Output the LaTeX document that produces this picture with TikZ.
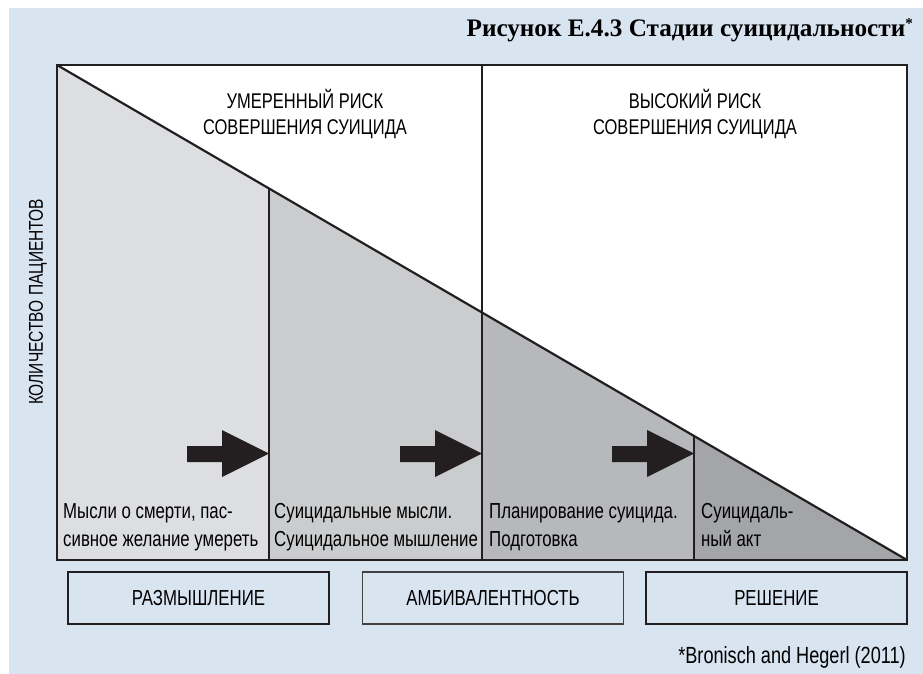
\documentclass[tikz,border=0pt]{standalone}
\usepackage{xcolor}
\usepackage{fontspec}
\setmainfont{Liberation Sans}[FakeStretch=0.775]
\newfontfamily\titlefont{Liberation Serif}
\usepackage{tikz}
\usetikzlibrary{positioning}

\definecolor{bgblue}{RGB}{217,228,241}
\definecolor{stageA}{RGB}{221,222,225}
\definecolor{stageB}{RGB}{203,204,206}
\definecolor{stageC}{RGB}{183,184,187}
\definecolor{stageD}{RGB}{164,165,168}
\definecolor{arrowblack}{RGB}{35,31,32}

\tikzset{
  frameline/.style={draw=arrowblack, line width=2.2pt},
  stagetext/.style={anchor=base west, align=left, inner sep=0pt, font=\fontsize{21.7}{27.5}\selectfont},
  risktext/.style={anchor=base, align=center, inner sep=0pt, font=\fontsize{21.3}{26.5}\selectfont},
  phase/.style={rectangle, draw=arrowblack, line width=2pt, minimum width=261pt, minimum height=52pt, font=\fontsize{21.7}{24}\selectfont}
}

\begin{document}
\begin{tikzpicture}[x=1pt, y=-1pt]
\useasboundingbox (0,0) rectangle (923,674);
\fill[bgblue] (9,8) rectangle (923,674);

% title
\node (title) [anchor=base east, inner sep=0pt, font=\titlefont\bfseries\fontsize{25.2}{28}\selectfont] at (913,37) {Рисунок Е.4.3 Стадии суицидальности\raisebox{8pt}{\fontsize{15}{15}\selectfont*}};

% chart area
\coordinate (tl) at (57,65);
\coordinate (br) at (907,560);
\coordinate (s1) at (269,188.5);
\coordinate (s2) at (482,312.5);
\coordinate (s3) at (694,436);
\fill[white] (tl) rectangle (br);
\fill[stageA] (tl) -- (s1) -- (269,560) -- (57,560) -- cycle;
\fill[stageB] (s1) -- (s2) -- (482,560) -- (269,560) -- cycle;
\fill[stageC] (s2) -- (s3) -- (694,560) -- (482,560) -- cycle;
\fill[stageD] (s3) -- (br) -- (694,560) -- cycle;

\draw[frameline] (tl) rectangle (br);
\draw[frameline] (tl) -- (br);
\draw[frameline] (s1) -- (269,560);
\draw[frameline] (482,65) -- (482,560);
\draw[frameline] (s3) -- (694,560);

% arrows between stages
\foreach \tip in {269,482,694}
  \fill[arrowblack] (\tip-82,446) -- (\tip-47,446) -- (\tip-47,430) -- (\tip,453.5)
    -- (\tip-47,477) -- (\tip-47,462) -- (\tip-82,462) -- cycle;

% labels (base = last line)
\node (moderate) [risktext] at (305,135) {УМЕРЕННЫЙ РИСК\\СОВЕРШЕНИЯ СУИЦИДА};
\node (high) [risktext] at (695,135) {ВЫСОКИЙ РИСК\\СОВЕРШЕНИЯ СУИЦИДА};
\node (count) [rotate=90, inner sep=0pt, font=\fontsize{20}{24}\selectfont] at (38,302) {КОЛИЧЕСТВО ПАЦИЕНТОВ};

\node (thoughts) [stagetext] at (63,546) {Мысли о смерти, пас-\\сивное желание умереть};
\node (ideation) [stagetext] at (274,546) {Суицидальные мысли.\\Суицидальное мышление};
\node (planning) [stagetext] at (489,546) {Планирование суицида.\\Подготовка};
\node (act) [stagetext] at (701,546) {Суицидаль-\\ный акт};

% phases
\node (reflect) [phase] at (198.5,598) {РАЗМЫШЛЕНИЕ};
\node (ambival) [phase, line width=1.3pt, draw=arrowblack!85] at (493,598) {АМБИВАЛЕНТНОСТЬ};
\node (decision) [phase] at (776.5,598) {РЕШЕНИЕ};

\node (source) [anchor=base east, inner sep=0pt, font=\fontsize{23.4}{26}\selectfont] at (906,663) {*Bronisch and Hegerl (2011)};
\end{tikzpicture}
\end{document}
